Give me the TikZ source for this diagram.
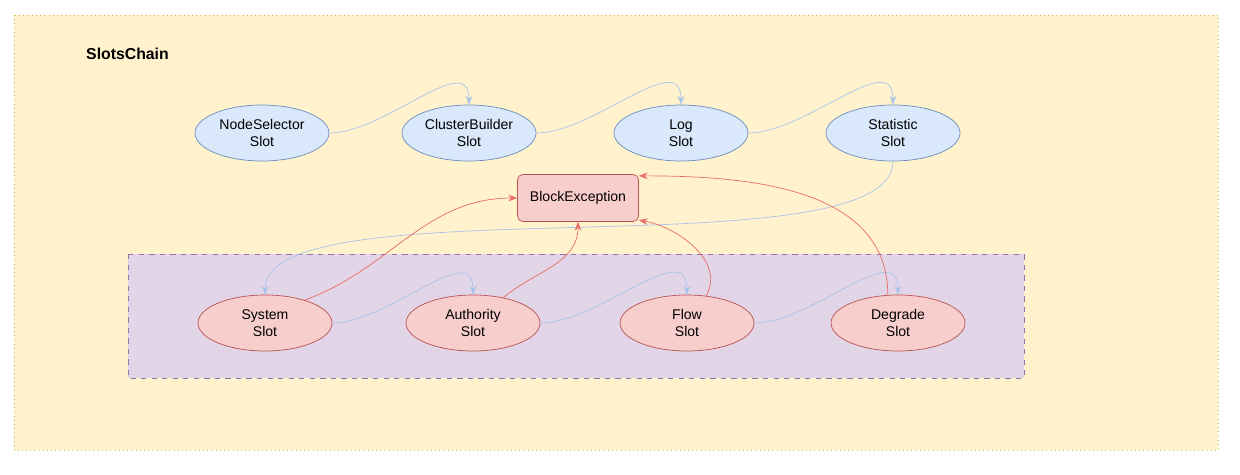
\documentclass[tikz,border=0pt]{standalone}
\usepackage{fontspec}
\setmainfont{Liberation Sans}
\usetikzlibrary{arrows.meta,shapes.geometric,positioning}
\definecolor{bgfill}{HTML}{FFF2CC}
\definecolor{bgdraw}{HTML}{D6B656}
\definecolor{grpfill}{HTML}{E1D5E7}
\definecolor{grpdraw}{HTML}{9673A6}
\definecolor{bluefill}{HTML}{DAE8FC}
\definecolor{bluedraw}{HTML}{6C8EBF}
\definecolor{redfill}{HTML}{F8CECC}
\definecolor{reddraw}{HTML}{B85450}
\definecolor{bluearrow}{HTML}{A9C4EB}
\definecolor{redarrow}{HTML}{EA6B66}

\begin{document}
\begin{tikzpicture}[
        x=0.02cm, y=-0.02cm,
        every node/.style={font=\fontsize{8}{9.5}\selectfont, align=center},
        slot/.style={ellipse, draw, minimum width=2.68cm, minimum height=1.12cm, inner sep=0pt},
        upper/.style={slot, fill=bluefill, draw=bluedraw},
        lower/.style={slot, fill=redfill, draw=reddraw},
        flow/.style={draw=bluearrow, thin, -{Stealth[length=5pt]}},
        block/.style={draw=redarrow, thin, -{Stealth[length=5pt]}}
    ]

    % Background and group
    \useasboundingbox (0,0) rectangle (1240,474);
    \draw[bgdraw, fill=bgfill, dotted] (14,15) rectangle (1218,450);
    \draw[grpdraw, fill=grpfill, dashed] (128,254) rectangle (1024,378);
    \node[font=\fontsize{9}{11}\selectfont\bfseries, anchor=west] (title) at (80,54) {SlotsChain};

    % Nodes
    \node[upper] (nodesel) at (262,133) {NodeSelector\\Slot};
    \node[upper] (cluster) at (469,133) {ClusterBuilder\\Slot};
    \node[upper] (log) at (681,133) {Log\\Slot};
    \node[upper] (stat) at (893,133) {Statistic\\Slot};

    \node[draw=reddraw, fill=redfill, rounded corners=3pt, minimum width=2.42cm, minimum height=0.94cm] (exc) at (578,198) {BlockException};

    \node[lower] (system) at (265,323) {System\\Slot};
    \node[lower] (auth) at (473,323) {Authority\\Slot};
    \node[lower] (flowslot) at (687,323) {Flow\\Slot};
    \node[lower] (degrade) at (898,323) {Degrade\\Slot};

    % Edges
    \draw[flow] (nodesel.east) to[out=0, in=90] (cluster.north);
    \draw[flow] (cluster.east) to[out=0, in=90] (log.north);
    \draw[flow] (log.east) to[out=0, in=90] (stat.north);
    \draw[flow] (stat.south) to[out=-90, in=90, looseness=0.45] (system.north);
    \draw[flow] (system.east) to[out=0, in=90] (auth.north);
    \draw[flow] (auth.east) to[out=0, in=90] (flowslot.north);
    \draw[flow] (flowslot.east) to[out=0, in=90] (degrade.north);

    \draw[block] (system.30) to[out=20, in=180] (exc.west);
    \draw[block] (auth.40) to[out=40, in=-90] (exc.south);
    \draw[block] (flowslot.55) to[out=60, in=-10] (exc.-20);
    \draw[block] (degrade.110) to[out=90, in=0] (exc.20);

\end{tikzpicture}
\end{document}
